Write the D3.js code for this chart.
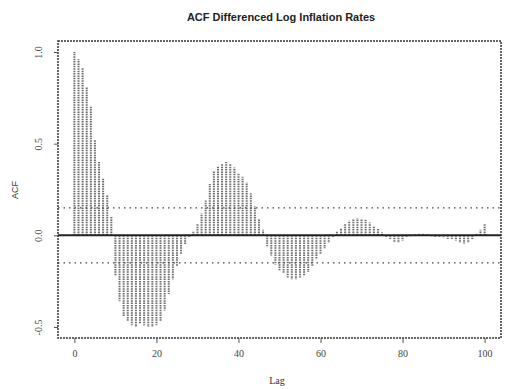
<!DOCTYPE html>
<html><head><meta charset="utf-8">
<script src="https://cdn.jsdelivr.net/npm/d3@7"></script>
<style>body{margin:0;background:#fff}svg{display:block}</style>
</head><body><svg id="c" width="507" height="389"></svg>
<script>
const lags = d3.range(0, 101);
const acfValues = [
 1.00, 0.96, 0.915, 0.81, 0.705, 0.52, 0.40, 0.31, 0.22, 0.10,
 -0.22, -0.36, -0.44, -0.47, -0.49, -0.50, -0.48, -0.49, -0.50, -0.50,
 -0.49, -0.47, -0.41, -0.32, -0.24, -0.17, -0.10, -0.05, -0.01, 0.02,
 0.06, 0.12, 0.19, 0.28, 0.35, 0.38, 0.39, 0.40, 0.39, 0.37,
 0.34, 0.32, 0.29, 0.23, 0.16, 0.09, 0.03, -0.06, -0.11, -0.16,
 -0.19, -0.21, -0.23, -0.24, -0.24, -0.23, -0.22, -0.20, -0.17, -0.13,
 -0.10, -0.07, -0.04, -0.01, 0.02, 0.04, 0.06, 0.08, 0.09, 0.095,
 0.09, 0.085, 0.07, 0.05, 0.035, 0.015, -0.01, -0.02, -0.035, -0.04,
 -0.03, -0.01, -0.005, 0.005, 0.01, 0.01, 0.005, -0.005, -0.01, -0.01,
 -0.015, -0.02, -0.02, -0.03, -0.04, -0.045, -0.04, -0.02, 0.01, 0.03,
 0.06
];
const ciValue = 0.15;
const xTicks = [0, 20, 40, 60, 80, 100];
const yTicks = [-0.5, 0.0, 0.5, 1.0];
const yTickLabels = ["-0.5", "0.0", "0.5", "1.0"];

const svg = d3.select("#c");
const L = 58, R = 501, T = 41, B = 338;
const x = d3.scaleLinear().domain([-4, 104]).range([L, R]);
const y = d3.scaleLinear().domain([-0.56, 1.06]).range([B, T]);
const ink = "#333";

// title
svg.append("text").attr("x", 281).attr("y", 21).attr("text-anchor", "middle")
  .attr("font-family", "Liberation Sans, Arial, sans-serif").attr("font-weight", "bold")
  .attr("font-size", 11).attr("fill", "#222").text("ACF Differenced Log Inflation Rates");

// bars
svg.append("g").selectAll("line").data(lags).join("line")
  .attr("x1", d => x(d)).attr("x2", d => x(d))
  .attr("y1", y(0)).attr("y2", d => y(acfValues[d]))
  .attr("stroke", "#6d6d6d").attr("stroke-width", 2).attr("stroke-dasharray", "1.5,0.9");

// zero line
svg.append("line").attr("x1", L).attr("x2", R).attr("y1", y(0)).attr("y2", y(0))
  .attr("stroke", "#222").attr("stroke-width", 2);

// confidence lines
[ciValue, -ciValue].forEach(v => {
  svg.append("line").attr("x1", L).attr("x2", R).attr("y1", y(v)).attr("y2", y(v))
    .attr("stroke", "#444").attr("stroke-width", 1.4).attr("stroke-dasharray", "1.5,4");
});

// frame
svg.append("rect").attr("x", L).attr("y", T).attr("width", R - L).attr("height", B - T)
  .attr("fill", "none").attr("stroke", ink).attr("stroke-width", 1.5).attr("stroke-dasharray", "2,1");

// x axis
const xAxis = d3.axisBottom(x).tickValues(xTicks).tickSize(5).tickPadding(7).tickFormat(d3.format("d"));
const gx = svg.append("g").attr("transform", `translate(0,${B})`).call(xAxis);
gx.select(".domain").remove();
gx.selectAll(".tick line").attr("stroke", "#555");
gx.selectAll("text").attr("font-family", "Liberation Serif, Times New Roman, serif")
  .attr("font-size", 10).attr("fill", "#444");

// y axis
const yAxis = d3.axisLeft(y).tickValues(yTicks).tickSize(4).tickPadding(0)
  .tickFormat((d, i) => yTickLabels[i]);
const gy = svg.append("g").attr("transform", `translate(${L},0)`).call(yAxis);
gy.select(".domain").remove();
gy.selectAll(".tick line").attr("stroke", "#555");
gy.selectAll("text").attr("font-family", "Liberation Serif, Times New Roman, serif")
  .attr("font-size", 10).attr("fill", "#444")
  .attr("text-anchor", "middle").attr("dy", null).attr("x", null)
  .attr("transform", "translate(-16,0) rotate(-90)");

// axis titles
svg.append("text").attr("transform", "translate(18,190) rotate(-90)").attr("text-anchor", "middle")
  .attr("font-family", "Liberation Sans, Arial, sans-serif").attr("font-size", 9).attr("fill", "#333").text("ACF");
svg.append("text").attr("x", 277).attr("y", 384).attr("text-anchor", "middle")
  .attr("font-family", "Liberation Serif, Times New Roman, serif").attr("font-size", 10).attr("fill", "#333").text("Lag");
</script></body></html>
